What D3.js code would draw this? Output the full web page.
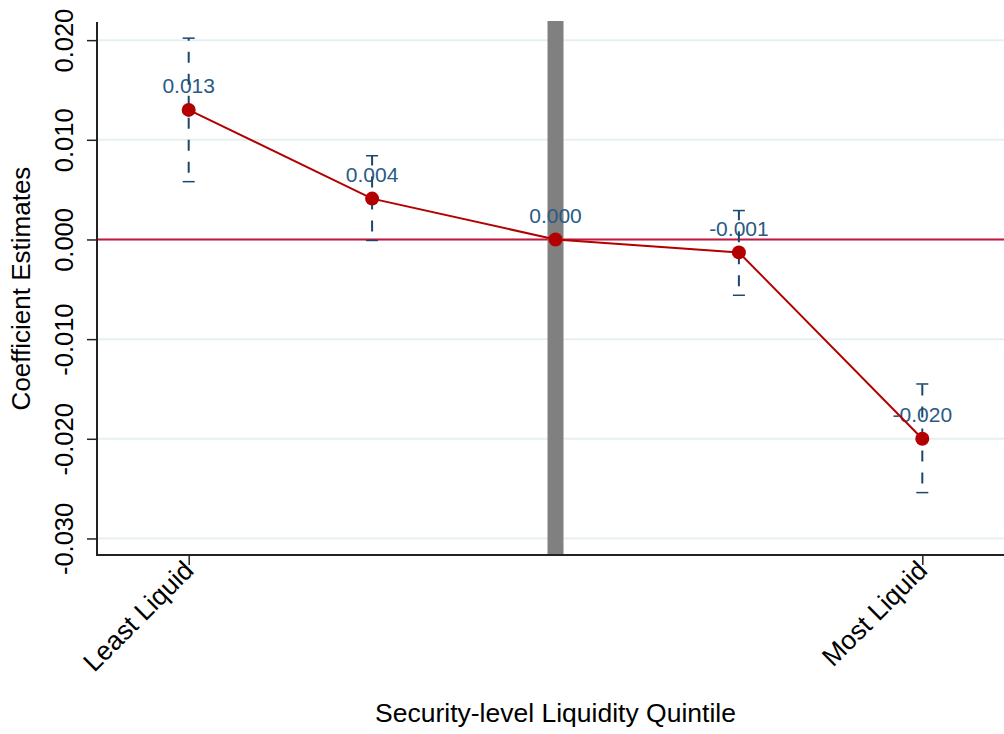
<!DOCTYPE html>
<html>
<head>
<meta charset="utf-8">
<script src="https://cdn.jsdelivr.net/npm/d3@7"></script>
<style>
  html, body { margin: 0; padding: 0; background: #fff; }
  svg { display: block; font-family: "Liberation Sans", Arial, Helvetica, sans-serif; }
</style>
</head>
<body>
<svg id="chart" width="1004" height="734"></svg>
<script>
// Quintile positions and their coefficient estimates with 95% CI bounds
const quintiles = [1, 2, 3, 4, 5];
const estimates = [0.013, 0.0041, 0.0, -0.0013, -0.0200];
const ciLower   = [0.0058, -0.0001, 0.0, -0.0056, -0.0254];
const ciUpper   = [0.0202, 0.0084, 0.0, 0.0029, -0.0145];
const hasCI     = [true, true, false, true, true];

// Axis tick values and labels
const yTicks = [-0.03, -0.02, -0.01, 0.0, 0.01, 0.02];
const xTickPositions = [1, 5];
const xTickLabels = ["Least Liquid", "Most Liquid"];
const baseQuintile = 3;

const svg = d3.select("#chart");

const plotLeft = 97, plotTop = 22, plotBottom = 555;
const x = d3.scaleLinear().domain([0.5, 5.5]).range([plotLeft, 1014]);
const y = d3.scaleLinear().domain([-0.03166, 0.02182]).range([plotBottom, plotTop]);

const navy = "#1a476f";
const red = "#b30000";
// Plain hyphen-minus for negative numbers
const locale = d3.formatLocale({ decimal: ".", thousands: ",", grouping: [3], currency: ["", ""], minus: "-" });
const fmt = locale.format(".3f");

// Horizontal grid lines
svg.append("g").selectAll("line").data(yTicks).join("line")
  .attr("x1", plotLeft).attr("x2", 1004)
  .attr("y1", d => y(d)).attr("y2", d => y(d))
  .attr("stroke", "#e7f0f1").attr("stroke-width", 2);

// Reference line at zero
svg.append("line")
  .attr("x1", plotLeft).attr("x2", 1004)
  .attr("y1", y(0)).attr("y2", y(0))
  .attr("stroke", "#c5173f").attr("stroke-width", 2);

// Shaded vertical band marking the omitted base quintile
svg.append("rect")
  .attr("x", x(baseQuintile) - 8).attr("width", 16)
  .attr("y", plotTop - 1).attr("height", plotBottom - plotTop + 1)
  .attr("fill", "#808080");

// Value labels above each point
svg.append("g").selectAll("text").data(quintiles).join("text")
  .attr("x", d => x(d))
  .attr("y", (d, i) => y(estimates[i]) - 16.5)
  .attr("text-anchor", "middle")
  .attr("font-size", 21)
  .attr("fill", "#2a5a85")
  .text((d, i) => fmt(estimates[i]));

// Confidence interval bars (dashed) with caps
const ciIdx = quintiles.map((d, i) => i).filter(i => hasCI[i]);
const ci = svg.append("g").attr("stroke", navy);
ci.selectAll("line.bar").data(ciIdx).join("line")
  .attr("class", "bar")
  .attr("x1", i => x(quintiles[i])).attr("x2", i => x(quintiles[i]))
  .attr("y1", i => y(ciLower[i])).attr("y2", i => y(ciUpper[i]))
  .attr("stroke-width", 2)
  .attr("stroke-dasharray", "11,11")
  .attr("stroke-dashoffset", 13);
ci.selectAll("line.capLo").data(ciIdx).join("line")
  .attr("class", "capLo")
  .attr("x1", i => x(quintiles[i]) - 6).attr("x2", i => x(quintiles[i]) + 6)
  .attr("y1", i => y(ciLower[i])).attr("y2", i => y(ciLower[i]))
  .attr("stroke-width", 1.5);
ci.selectAll("line.capHi").data(ciIdx).join("line")
  .attr("class", "capHi")
  .attr("x1", i => x(quintiles[i]) - 6).attr("x2", i => x(quintiles[i]) + 6)
  .attr("y1", i => y(ciUpper[i])).attr("y2", i => y(ciUpper[i]))
  .attr("stroke-width", 1.5);

// Connecting line and point markers
const line = d3.line().x((d, i) => x(d)).y((d, i) => y(estimates[i]));
svg.append("path").datum(quintiles)
  .attr("d", line)
  .attr("fill", "none").attr("stroke", red).attr("stroke-width", 2);
svg.append("g").selectAll("circle").data(quintiles).join("circle")
  .attr("cx", d => x(d)).attr("cy", (d, i) => y(estimates[i]))
  .attr("r", 7).attr("fill", red);

// Y axis
const yAxis = svg.append("g")
  .attr("transform", `translate(${plotLeft},0)`)
  .call(d3.axisLeft(y).tickValues(yTicks).tickFormat(fmt).tickSize(10).tickSizeOuter(0));
yAxis.select(".domain").remove();
yAxis.append("line")
  .attr("x1", 0).attr("x2", 0).attr("y1", plotTop).attr("y2", plotBottom + 1)
  .attr("stroke", "#222").attr("stroke-width", 2);
yAxis.selectAll(".tick line").attr("stroke", "#222").attr("stroke-width", 1.5);
yAxis.selectAll(".tick text")
  .attr("font-size", 25.5).attr("fill", "#000")
  .attr("text-anchor", "middle")
  .attr("x", null).attr("dy", null)
  .attr("transform", "translate(-24,0) rotate(-90)")
  .attr("y", 0);

// X axis
const xAxis = svg.append("g")
  .attr("transform", `translate(0,${plotBottom})`)
  .call(d3.axisBottom(x).tickValues(xTickPositions)
    .tickFormat((d, i) => xTickLabels[i]).tickSize(10).tickSizeOuter(0));
xAxis.select(".domain").remove();
xAxis.append("line")
  .attr("x1", plotLeft - 1).attr("x2", 1004).attr("y1", 0).attr("y2", 0)
  .attr("stroke", "#222").attr("stroke-width", 2);
xAxis.selectAll(".tick line").attr("stroke", "#222").attr("stroke-width", 1.5);
xAxis.selectAll(".tick text")
  .attr("font-size", 26.5).attr("fill", "#000")
  .attr("text-anchor", "end")
  .attr("dy", null).attr("y", 0)
  .attr("transform", "translate(6,17) rotate(-45)");

// Axis titles
svg.append("text")
  .attr("x", x(3)).attr("y", 722)
  .attr("text-anchor", "middle").attr("font-size", 26.5).attr("fill", "#000")
  .text("Security-level Liquidity Quintile");
svg.append("text")
  .attr("transform", `translate(30,${(plotTop + plotBottom) / 2}) rotate(-90)`)
  .attr("text-anchor", "middle").attr("font-size", 26).attr("fill", "#000")
  .text("Coefficient Estimates");
</script>
</body>
</html>
